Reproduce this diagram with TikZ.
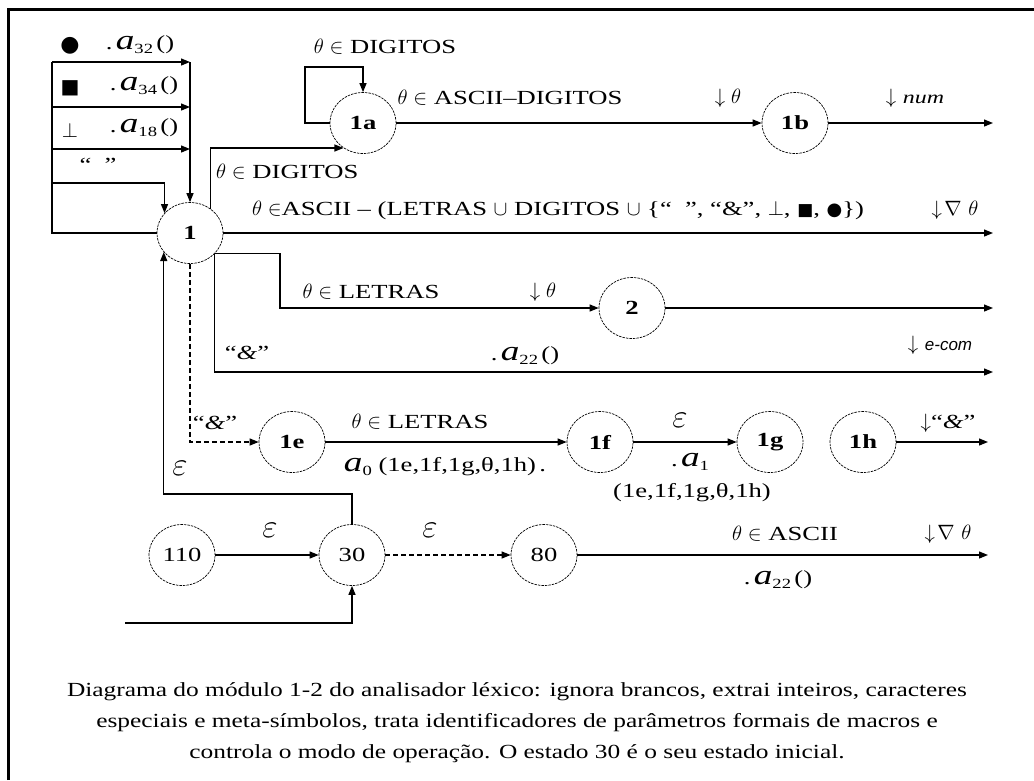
\documentclass[tikz,border=0pt]{standalone}
\usepackage{fontspec}
\usepackage{amssymb}
\usepackage{graphicx}
\setmainfont{Liberation Serif}
\newfontfamily\lab{Liberation Serif}[FakeStretch=1.33]
\newfontfamily\capf{Liberation Serif}[FakeStretch=1.27]
\newfontfamily\dv{DejaVu Sans}
\newfontfamily\sfi{Liberation Sans}
\usetikzlibrary{arrows.meta,shapes.geometric}
\newcommand{\ascr}[1]{{\fontsize{28}{28}\selectfont\itshape a}\raisebox{-4pt}{\fontsize{14}{14}\selectfont #1}}
\newcommand{\eps}{\scalebox{1.6}{$\varepsilon$}}
\tikzset{
  st/.style={ellipse, draw, line width=0.7pt, dash pattern=on 2.5pt off 1pt,
    minimum width=66pt, minimum height=61pt, inner sep=0pt,
    font=\lab\fontsize{20}{24}\selectfont},
  ln/.style={line width=1.2pt},
  tr/.style={ln, -{Triangle[length=9pt,width=7pt]}},
  dtr/.style={tr, dash pattern=on 5pt off 3pt},
  lbl/.style={inner sep=0pt, font=\lab\fontsize{20}{24}\selectfont},
}
\begin{document}
\begin{tikzpicture}[x=1pt,y=-1pt]
\useasboundingbox (0,0) rectangle (1034,780);
\draw[line width=3pt] (8,780) -- (8,9) -- (1034,9);

% states
\node[st] (n1) at (190,233) {\bfseries 1};
\node[st] (n1a) at (363,123) {\bfseries 1a};
\node[st] (n1b) at (795,123) {\bfseries 1b};
\node[st] (n2) at (632,308) {\bfseries 2};
\node[st] (n1e) at (292,442) {\bfseries 1e};
\node[st] (n1f) at (600,442) {\bfseries 1f};
\node[st] (n1g) at (770,442) {\bfseries 1g};
\node[st] (n1h) at (863,442) {\bfseries 1h};
\node[st] (n110) at (182,555) {110};
\node[st] (n30) at (352,555) {30};
\node[st] (n80) at (544,555) {80};

% free ends
\coordinate (L1) at (52,62);
\coordinate (L2) at (52,107);
\coordinate (L3) at (52,149);
\coordinate (L4) at (52,183);
\coordinate (J1) at (190,62);
\coordinate (J2) at (190,107);
\coordinate (J3) at (190,149);
\coordinate (la) at (305,67);
\coordinate (o1b) at (993,123);
\coordinate (oA) at (993,233);
\coordinate (k2) at (280,308);
\coordinate (o2) at (993,308);
\coordinate (oE) at (993,372);
\coordinate (oH) at (988,442);
\coordinate (o80) at (988,555);
\coordinate (k3) at (164,494);
\coordinate (i30) at (125,623);

% loop-back inputs to 1
\draw[tr] (L1) -- (J1);
\draw[tr] (L2) -- (J2);
\draw[tr] (L3) -- (J3);
\draw[tr] (J1) -- (n1.north);
\draw[tr] (L4) -| (n1.142);
\draw[ln] (L1) |- (n1.west);
\node[lbl] at (70,46) {{\dv\fontsize{22}{22}\selectfont ●}};
\node[lbl] at (140,45) {.\,\ascr{32}\,()};
\node[lbl] at (70,88) {{\dv\fontsize{20}{20}\selectfont ■}};
\node[lbl] at (144,86) {.\,\ascr{34}\,()};
\node[lbl] at (70,130) {$\perp$};
\node[lbl] at (144,128) {.\,\ascr{18}\,()};
\node[lbl] at (98,165) {“\ \ ”};

% 1 -> 1a, loop, 1a -> 1b
\draw[tr] (n1.50) |- (n1a.232);
\node[lbl, anchor=west] at (216,172) {$\theta\in$ DIGITOS};
\draw[tr] (n1a.west) -| (la) -| (n1a.north);
\node[lbl] at (385,47) {$\theta\in$ DIGITOS};
\draw[tr] (n1a) -- (n1b);
\node[lbl] at (510,98) {$\theta\in$ ASCII–DIGITOS};
\node[lbl] at (728,98) {$\downarrow\theta$};
\draw[tr] (n1b) -- (o1b);
\node[lbl] at (915,98) {$\downarrow$ {\fontsize{18}{18}\selectfont\itshape num}};

% 1 -> out (ASCII - ...)
\draw[tr] (n1.east) -- (oA);
\node[lbl] at (558,210) {$\theta\in$ASCII – (LETRAS $\cup$ DIGITOS $\cup$ \{“\ \ ”, “\&”, $\perp$, {\dv\fontsize{17}{17}\selectfont ■}, {\dv\fontsize{18}{18}\selectfont ●}\})};
\node[lbl] at (955,210) {$\downarrow\!\nabla\ \theta$};

% 1 -> 2
\draw[tr] (n1.-40) -| (k2) -- (n2.west);
\node[lbl] at (371,292) {$\theta\in$ LETRAS};
\node[lbl] at (543,292) {$\downarrow\theta$};
\draw[tr] (n2) -- (o2);

% 1 -> & out
\draw[tr] (n1.-40) |- (oE);
\node[lbl] at (247,353) {“\textit{\&}”};
\node[lbl] at (525,356) {.\,\ascr{22}\,()};
\node[lbl] at (940,345) {$\downarrow$ {\sfi\fontsize{17}{17}\selectfont\itshape e-com}};

% 1 -> 1e dashed
\draw[dtr] (n1.south) |- (n1e.west);
\node[lbl] at (215,423) {“\textit{\&}”};
\draw[tr] (n1e) -- (n1f);
\node[lbl] at (420,422) {$\theta\in$ LETRAS};
\node[lbl] at (445,467) {\ascr{0}\ (1e,1f,1g,θ,1h)\,.};
\draw[tr] (n1f) -- (n1g);
\node[lbl] at (680,420) {\eps};
\node[lbl] at (690,462) {.\,\ascr{1}};
\node[lbl] at (692,493) {(1e,1f,1g,θ,1h)};
\draw[tr] (n1h) -- (oH);
\node[lbl] at (948,423) {$\downarrow$“\textit{\&}”};

% bottom row
\draw[tr] (n110) -- (n30);
\node[lbl] at (270,530) {\eps};
\draw[dtr] (n30) -- (n80);
\node[lbl] at (430,530) {\eps};
\draw[tr] (n80) -- (o80);
\node[lbl] at (785,534) {$\theta\in$ ASCII};
\node[lbl] at (948,534) {$\downarrow\!\nabla\ \theta$};
\node[lbl] at (778,580) {.\,\ascr{22}\,()};
\draw[tr] (n30.north) |- (k3) -| (n1.216);
\node[lbl] at (180,468) {\eps};
\draw[tr] (i30) -| (n30.south);

% caption
\node[align=center, inner sep=0pt, font=\capf\fontsize{20}{31}\selectfont] at (517,723)
 {Diagrama do módulo 1-2 do analisador léxico: ignora brancos, extrai inteiros, caracteres\\
  especiais e meta-símbolos, trata identificadores de parâmetros formais de macros e\\
  controla o modo de operação. O estado 30 é o seu estado inicial.};
\end{tikzpicture}
\end{document}
